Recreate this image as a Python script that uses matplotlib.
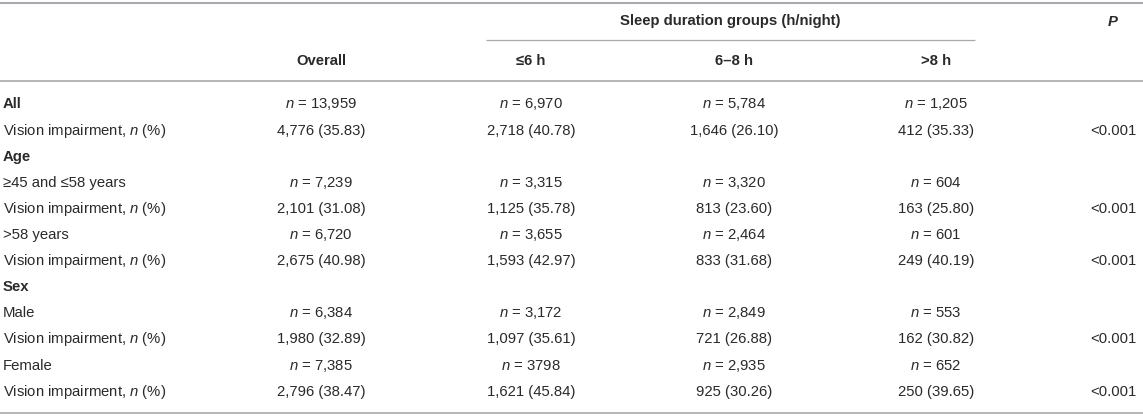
"""
Table: vision impairment by sleep duration group, drawn as text on a blank axes.
"""
import matplotlib
matplotlib.use('Agg')
import matplotlib.pyplot as plt

plt.rcParams['font.family'] = ['Liberation Sans', 'DejaVu Sans']
plt.rcParams['mathtext.fontset'] = 'custom'
plt.rcParams['mathtext.rm'] = 'Liberation Sans'
plt.rcParams['mathtext.it'] = 'Liberation Sans:italic'
plt.rcParams['mathtext.bf'] = 'Liberation Sans:bold'

# ---- data (as printed) ----
col_headers = ['Overall', '\u22646 h', '6\u20138 h', '>8 h']
spanner = 'Sleep duration groups (h/night)'

subgroups = ['All', '\u226545 and \u226458 years', '>58 years', 'Male', 'Female']
sections = {1: 'Age', 3: 'Sex'}   # section header printed before subgroup index

n_overall = ['13,959', '7,239', '6,720', '6,384', '7,385']
n_le6 = ['6,970', '3,315', '3,655', '3,172', '3798']
n_6to8 = ['5,784', '3,320', '2,464', '2,849', '2,935']
n_gt8 = ['1,205', '604', '601', '553', '652']

vi_overall = ['4,776 (35.83)', '2,101 (31.08)', '2,675 (40.98)', '1,980 (32.89)', '2,796 (38.47)']
vi_le6 = ['2,718 (40.78)', '1,125 (35.78)', '1,593 (42.97)', '1,097 (35.61)', '1,621 (45.84)']
vi_6to8 = ['1,646 (26.10)', '813 (23.60)', '833 (31.68)', '721 (26.88)', '925 (30.26)']
vi_gt8 = ['412 (35.33)', '163 (25.80)', '249 (40.19)', '162 (30.82)', '250 (39.65)']
p_values = ['<0.001', '<0.001', '<0.001', '<0.001', '<0.001']

# ---- style ----
INK = '#2a2a2a'
RULE = '#a7a9ac'
FS = 10.7

W, H = 1143, 418
fig = plt.figure(figsize=(W / 100, H / 100), dpi=100)
ax = fig.add_axes([0, 0, 1, 1])
ax.set_xlim(0, W); ax.set_ylim(H, 0); ax.axis('off')
fig.patch.set_facecolor('white')

label_x = 3
col_x = [321, 531, 734, 936]
p_x = 1113

# rules
ax.plot([0, W], [3, 3], color=RULE, lw=1.5, solid_capstyle='butt')
ax.plot([486, 975], [39.5, 39.5], color=RULE, lw=0.9, solid_capstyle='butt')
ax.plot([0, W], [80.5, 80.5], color=RULE, lw=1.2, solid_capstyle='butt')
ax.plot([0, W], [413, 413], color=RULE, lw=1.2, solid_capstyle='butt')

# header
ax.text(730, 21.5, spanner, fontsize=FS, fontweight='bold', color=INK,
        ha='center', va='center')
ax.text(p_x, 21.5, 'P', fontsize=FS, fontweight='bold', style='italic',
        color=INK, ha='center', va='center')
for x, h in zip(col_x, col_headers):
    ax.text(x, 61, h, fontsize=FS, fontweight='bold', color=INK,
            ha='center', va='center')

# body
y0, dy = 104.5, 26.1
row = 0
for i, name in enumerate(subgroups):
    if i in sections:
        ax.text(label_x, y0 + row * dy, sections[i], fontsize=FS,
                fontweight='bold', color=INK, va='center')
        row += 1
    y = y0 + row * dy
    ax.text(label_x, y, name, fontsize=FS, color=INK, va='center',
            fontweight='bold' if name == 'All' else 'normal')
    for x, col in zip(col_x, [n_overall, n_le6, n_6to8, n_gt8]):
        ax.text(x, y, r'$n\ $= ' + col[i], fontsize=FS, color=INK,
                ha='center', va='center')
    row += 1
    y = y0 + row * dy
    ax.text(label_x, y, r'Vision impairment, $n$ (%)', fontsize=FS,
            color=INK, va='center')
    for x, col in zip(col_x, [vi_overall, vi_le6, vi_6to8, vi_gt8]):
        ax.text(x, y, col[i], fontsize=FS, color=INK, ha='center', va='center')
    ax.text(p_x, y, p_values[i], fontsize=FS, color=INK, ha='center', va='center')
    row += 1

fig.savefig('out.png', dpi=100, facecolor='white')
plt.close(fig)
